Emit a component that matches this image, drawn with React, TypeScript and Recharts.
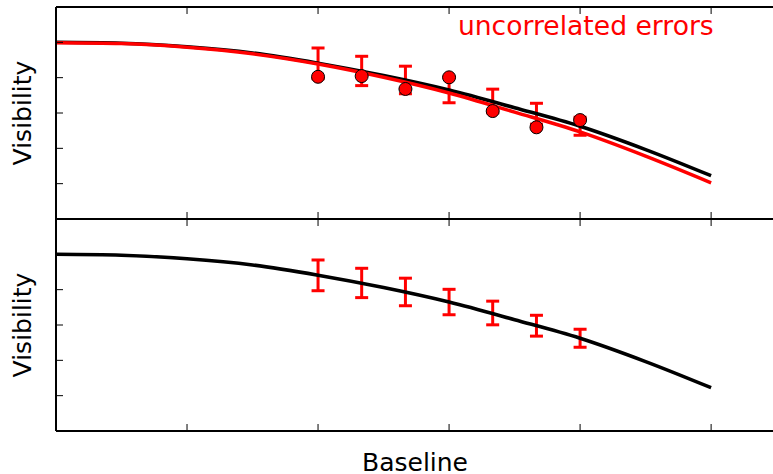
import { ComposedChart, ErrorBar, Line, ReferenceDot, Scatter, XAxis, YAxis } from "recharts";

const FONT = "'DejaVu Sans', sans-serif";

// model curves, sampled along the baseline axis
const baselineGrid = [0, 0.5, 1, 1.5, 2, 2.5, 3, 3.5, 4, 4.5, 5];
const modelCorrelated = [1.0, 0.995, 0.975, 0.94, 0.882, 0.812, 0.73, 0.63, 0.525, 0.393, 0.245];
const modelUncorrelated = [0.998, 0.993, 0.972, 0.935, 0.877, 0.802, 0.713, 0.605, 0.493, 0.356, 0.205];

// measurements
const sampleBaselines = [2, 2.333, 2.667, 3, 3.333, 3.667, 4];
const sampleModel = [0.881, 0.838, 0.787, 0.73, 0.668, 0.596, 0.525];
const sampleErrors = [0.087, 0.083, 0.078, 0.072, 0.067, 0.059, 0.051];
const measuredUncorrelated = [0.805, 0.809, 0.736, 0.802, 0.611, 0.519, 0.56];

const xTicks = [0, 1, 2, 3, 4, 5];
const yTicks = [0.2, 0.4, 0.6, 0.8, 1.0];

const blackCurve = baselineGrid.map((x, i) => ({ x, v: modelCorrelated[i] }));
const redCurve = baselineGrid.map((x, i) => ({ x, v: modelUncorrelated[i] }));
const errorPoints = sampleBaselines.map((x, i) => ({ x, v: sampleModel[i], e: sampleErrors[i] }));
const scatterPoints = sampleBaselines.map((x, i) => ({ x, v: measuredUncorrelated[i] }));

const TICK_LEN = 7;
const spine = { stroke: "#000", strokeWidth: 2 };

const BottomTick = (p: any) => (
  <line x1={p.x} y1={p.y} x2={p.x} y2={p.y - TICK_LEN} stroke="#000" strokeWidth={1} />
);
const TopTick = (p: any) => (
  <line x1={p.x} y1={p.y} x2={p.x} y2={p.y + TICK_LEN} stroke="#000" strokeWidth={1} />
);
const LeftTick = (p: any) => (
  <line x1={p.x} y1={p.y} x2={p.x + TICK_LEN} y2={p.y} stroke="#000" strokeWidth={1} />
);
const RightTick = (p: any) => (
  <line x1={p.x - TICK_LEN} y1={p.y} x2={p.x} y2={p.y} stroke="#000" strokeWidth={1} />
);

const yLabel = (p: any) => {
  const vb = p.viewBox;
  const cx = vb.x + 31;
  const cy = vb.y + vb.height / 2;
  return (
    <text x={cx} y={cy} transform={`rotate(-90 ${cx} ${cy})`} textAnchor="middle"
      fontFamily={FONT} fontSize={25} fill="#000">
      Visibility
    </text>
  );
};

const xLabel = (p: any) => {
  const vb = p.viewBox;
  return (
    <text x={vb.x + vb.width / 2} y={vb.y + 40} textAnchor="middle" fontFamily={FONT} fontSize={25} fill="#000">
      Baseline
    </text>
  );
};

const noteLabel = (p: any) => {
  const vb = p.viewBox;
  return (
    <text x={vb.x} y={vb.y} textAnchor="end" fontFamily={FONT} fontSize={26.6} fill="#ff0000">
      uncorrelated errors
    </text>
  );
};

function Panel({ height, marginTop, bottomHeight, withXLabel, children }: any) {
  return (
    <ComposedChart width={780} height={height} margin={{ top: marginTop, right: 0, bottom: 0, left: 0 }}>
      <XAxis xAxisId="b" dataKey="x" type="number" domain={[0, 5.48]} ticks={xTicks} interval={0}
        orientation="bottom" height={bottomHeight} tickLine={false} tickSize={0} tickMargin={0} axisLine={spine}
        tick={BottomTick} label={withXLabel ? xLabel : undefined} allowDataOverflow />
      <XAxis xAxisId="t" dataKey="x" type="number" domain={[0, 5.48]} ticks={xTicks} interval={0}
        orientation="top" height={1} tickLine={false} tickSize={0} tickMargin={0} axisLine={spine} tick={TopTick}
        allowDataOverflow />
      <YAxis yAxisId="l" type="number" domain={[0, 1.2]} ticks={yTicks} interval={0} width={56}
        tickLine={false} tickSize={0} tickMargin={0} axisLine={spine} tick={LeftTick} label={yLabel} />
      <YAxis yAxisId="r" orientation="right" type="number" domain={[0, 1.2]} ticks={yTicks} interval={0}
        width={6} tickLine={false} tickSize={0} tickMargin={0} axisLine={spine} tick={RightTick} />
      {children}
    </ComposedChart>
  );
}

const errorSeries = (
  <Scatter xAxisId="b" yAxisId="l" data={errorPoints} dataKey="v" shape={() => <g />} isAnimationActive={false}>
    <ErrorBar dataKey="e" direction="y" width={6.5} stroke="#ff0000" strokeWidth={3} zIndex={350}
      isAnimationActive={false} />
  </Scatter>
);

export default function App() {
  return (
    <div style={{ position: "fixed", left: 0, top: 0, width: 773, height: 474, overflow: "hidden", background: "#fff" }}>
      <div style={{ position: "absolute", left: 0, top: 0 }}>
        <Panel height={220} marginTop={6} bottomHeight={1}>
          {errorSeries}
          <Line xAxisId="b" yAxisId="l" data={blackCurve} dataKey="v" type="monotone" stroke="#000"
            strokeWidth={3.5} dot={false} activeDot={false} isAnimationActive={false} />
          <Line xAxisId="b" yAxisId="l" data={redCurve} dataKey="v" type="monotone" stroke="#ff0000"
            strokeWidth={3.5} dot={false} activeDot={false} isAnimationActive={false} />
          <Scatter xAxisId="b" yAxisId="l" data={scatterPoints} dataKey="v" isAnimationActive={false}
            shape={(p: any) => <circle cx={p.cx} cy={p.cy} r={6.5} fill="#ff0000" stroke="#000" strokeWidth={1} />} />
          <ReferenceDot xAxisId="b" yAxisId="l" x={5.02} y={1.04} r={0} fill="none" stroke="none" label={noteLabel} />
        </Panel>
      </div>
      <div style={{ position: "absolute", left: 0, top: 218 }}>
        <Panel height={256} marginTop={0} bottomHeight={43} withXLabel>
          {errorSeries}
          <Line xAxisId="b" yAxisId="l" data={blackCurve} dataKey="v" type="monotone" stroke="#000"
            strokeWidth={3.5} dot={false} activeDot={false} isAnimationActive={false} />
        </Panel>
      </div>
    </div>
  );
}
